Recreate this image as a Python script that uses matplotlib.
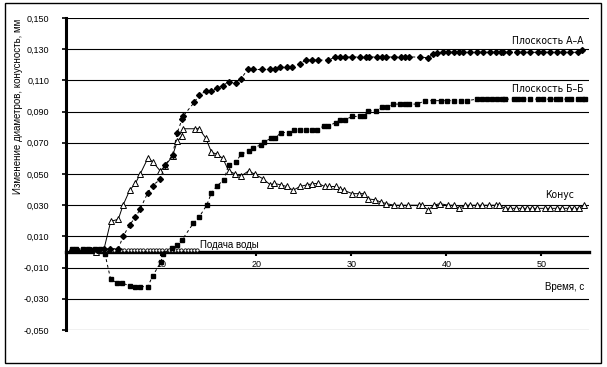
import numpy as np
import matplotlib
matplotlib.use('Agg')
import matplotlib.pyplot as plt
from matplotlib.ticker import FuncFormatter, FixedLocator
from matplotlib.patches import Rectangle

# Плоскость А-А
t_aa = [0.6, 1.2, 1.9, 2.6, 3.3, 4.0, 4.6, 5.5, 6.0, 6.7, 7.3, 7.8, 8.6, 9.1, 9.9,
        10.4, 11.2, 11.7, 12.2, 12.3, 13.5, 14.0, 14.7, 15.3, 15.9, 16.5, 17.1,
        17.9, 18.4, 19.1, 19.7, 20.6, 21.5, 22.0, 22.5, 23.2, 23.8, 24.6, 25.2,
        25.9, 26.5, 27.6, 28.3, 28.8, 29.3, 30.1, 30.9, 31.5, 31.9, 32.7, 33.2,
        33.7, 34.5, 35.2, 35.7, 36.1, 37.2, 38.1, 38.6, 39.0, 39.6, 40.2, 40.8,
        41.3, 41.8, 42.5, 43.2, 43.9, 44.6, 45.2, 45.7, 46.0, 46.6, 47.4, 48.1,
        48.8, 49.6, 50.2, 50.9, 51.6, 52.3, 53.0, 53.8, 54.3]
y_aa = [0.001, 0.001, 0.001, 0.001, 0.001, 0.002, 0.002, 0.002, 0.010, 0.0174,
        0.0224, 0.0275, 0.038, 0.0426, 0.0465, 0.0557, 0.062, 0.0766, 0.085, 0.087,
        0.096, 0.1006, 0.103, 0.103, 0.105, 0.1067, 0.109, 0.1085, 0.111, 0.117,
        0.117, 0.117, 0.117, 0.1174, 0.1185, 0.1185, 0.1185, 0.1206, 0.123, 0.123,
        0.123, 0.123, 0.125, 0.125, 0.125, 0.125, 0.125, 0.125, 0.125, 0.125,
        0.125, 0.125, 0.125, 0.125, 0.125, 0.125, 0.125, 0.1245, 0.127, 0.1275,
        0.128, 0.128, 0.128, 0.128, 0.128, 0.128, 0.128, 0.128, 0.128, 0.128,
        0.128, 0.128, 0.128, 0.128, 0.128, 0.128, 0.128, 0.128, 0.128, 0.128,
        0.128, 0.128, 0.128, 0.1295]

# Плоскость Б-Б
t_bb = [0.6, 1.1, 1.8, 2.3, 3.0, 3.6, 4.1, 4.7, 5.4, 5.9, 6.7, 7.3, 7.8, 8.6, 9.1,
        10.0, 10.2, 11.1, 11.7, 12.2, 13.4, 14.0, 14.8, 15.3, 15.9, 16.6, 17.1,
        17.9, 18.4, 19.2, 19.7, 20.5, 20.8, 21.6, 22.0, 22.6, 23.4, 24.0, 24.6,
        25.2, 25.9, 26.4, 27.1, 27.6, 28.4, 28.8, 29.3, 30.1, 30.9, 31.3, 31.8,
        32.6, 33.2, 33.8, 34.4, 35.1, 35.6, 36.1, 36.9, 37.8, 38.6, 39.4, 40.1,
        40.8, 41.5, 42.2, 43.2, 43.8, 44.3, 44.8, 45.3, 45.8, 46.2, 47.1, 47.5,
        48.1, 48.8, 49.6, 50.2, 50.9, 51.5, 52.0, 52.7, 53.1, 53.8, 54.3, 54.6]
y_bb = [0.002, 0.002, 0.002, 0.002, 0.002, 0.002, -0.0013, -0.0176, -0.0198,
        -0.0198, -0.0218, -0.0222, -0.0222, -0.0222, -0.0155, -0.0062, -0.001,
        0.0024, 0.0045, 0.0077, 0.0185, 0.0224, 0.030, 0.038, 0.0426, 0.046,
        0.056, 0.058, 0.0626, 0.0647, 0.0669, 0.0686, 0.0705, 0.073, 0.073,
        0.0766, 0.0766, 0.078, 0.078, 0.078, 0.078, 0.078, 0.0809, 0.0809, 0.083,
        0.0847, 0.0847, 0.0869, 0.0869, 0.0869, 0.0905, 0.0905, 0.0927, 0.0927,
        0.0948, 0.0948, 0.0948, 0.0948, 0.0948, 0.097, 0.097, 0.097, 0.097,
        0.097, 0.097, 0.097, 0.098, 0.098, 0.098, 0.098, 0.098, 0.098, 0.098,
        0.098, 0.098, 0.098, 0.098, 0.098, 0.098, 0.098, 0.098, 0.098, 0.098,
        0.098, 0.098, 0.098, 0.098]

# Конус
t_kon = [3.2, 4.0, 4.7, 5.5, 6.0, 6.7, 7.3, 7.8, 8.6, 9.1, 9.9, 10.4, 11.2, 11.7,
         12.2, 12.3, 13.6, 14.0, 14.7, 15.3, 15.9, 16.5, 17.1, 17.8, 18.4, 19.2,
         19.9, 20.7, 21.5, 21.9, 22.6, 23.2, 23.9, 24.6, 25.3, 25.9, 26.5, 27.2,
         27.7, 28.4, 28.8, 29.2, 30.1, 30.8, 31.3, 31.8, 32.5, 33.1, 33.7, 34.5,
         35.2, 36.0, 37.1, 37.4, 38.1, 38.7, 39.3, 40.2, 40.8, 41.3, 42.0, 42.5,
         43.2, 43.7, 44.5, 45.2, 45.5, 46.2, 46.7, 47.3, 48.0, 48.5, 49.0, 49.5,
         50.4, 50.9, 51.6, 52.2, 52.9, 53.4, 53.9, 54.5]
y_kon = [0.000, 0.002, 0.0196, 0.021, 0.030, 0.0396, 0.044, 0.050, 0.060, 0.058,
         0.052, 0.055, 0.0615, 0.071, 0.0745, 0.079, 0.079, 0.079, 0.073, 0.064,
         0.0626, 0.060, 0.052, 0.050, 0.0486, 0.052, 0.0497, 0.047, 0.043, 0.044,
         0.043, 0.042, 0.0396, 0.042, 0.043, 0.0437, 0.044, 0.042, 0.042, 0.042,
         0.0405, 0.0396, 0.0374, 0.0374, 0.0374, 0.034, 0.0335, 0.032, 0.031,
         0.030, 0.030, 0.030, 0.030, 0.030, 0.027, 0.030, 0.031, 0.030, 0.030,
         0.028, 0.030, 0.030, 0.030, 0.030, 0.030, 0.030, 0.030, 0.028, 0.028,
         0.028, 0.028, 0.028, 0.028, 0.028, 0.028, 0.028, 0.028, 0.028, 0.028,
         0.028, 0.028, 0.030]

# Подача воды
t_voda = [4.8, 5.1, 5.5, 5.8, 6.1, 6.5, 6.8, 7.1, 7.5, 7.8, 8.1, 8.5, 8.8, 9.1,
          9.5, 9.8, 10.1, 10.5, 10.8, 11.1, 11.5, 11.8, 12.1, 12.5, 12.8, 13.1,
          13.5, 13.8]
y_voda = [0.001] * len(t_voda)

x_ticks = [10, 20, 30, 40, 50]
y_ticks = [-0.05, -0.03, -0.01, 0.01, 0.03, 0.05, 0.07, 0.09, 0.11, 0.13, 0.15]

plt.rcParams['font.family'] = ['Liberation Sans', 'DejaVu Sans']

fig = plt.figure(figsize=(6.07, 3.67), dpi=100)
ax = fig.add_axes([66 / 607, 1 - 330 / 367, 523 / 607, 312 / 367])

ax.plot(t_voda, y_voda, 'o', mfc='white', mec='black', ms=2.4, mew=0.6)
ax.plot(t_bb, y_bb, color='black', ls=(0, (3, 3)), lw=0.7,
        marker='s', ms=2.6, mfc='black', mec='black')
ax.plot(t_kon, y_kon, color='black', ls='-', lw=0.7,
        marker='^', ms=4.0, mfc='white', mec='black', mew=0.7)
ax.plot(t_aa, y_aa, color='black', ls=(0, (3, 3)), lw=0.7,
        marker='D', ms=3.0, mfc='black', mec='black')

ax.set_xlim(0, 55)
ax.set_ylim(-0.05, 0.15)

ax.yaxis.set_major_locator(FixedLocator(y_ticks))
ax.yaxis.set_major_formatter(FuncFormatter(lambda v, p: f'{v:.3f}'.replace('.', ',')))
ax.xaxis.set_major_locator(FixedLocator(x_ticks))
ax.yaxis.grid(True, color='black', lw=0.8)
ax.set_axisbelow(True)

for s in ['top', 'right']:
    ax.spines[s].set_visible(False)
ax.spines['left'].set_linewidth(2.2)
ax.spines['bottom'].set_position(('data', 0))
ax.spines['bottom'].set_linewidth(2.4)
ax.spines['bottom'].set_zorder(1.5)

ax.tick_params(axis='y', direction='out', length=3, width=1.2, pad=9,
               labelsize=6.5, colors='black')
ax.tick_params(axis='x', direction='out', length=3, width=1.5, pad=3,
               labelsize=6.5, colors='black')

# подписи кривых - узкий шрифт
lab = dict(family='DejaVu Sans', fontstretch='condensed', fontsize=7.5,
           ha='right', va='center')
ax.text(54.4, 0.1355, 'Плоскость А–А', **lab)
ax.text(54.4, 0.1045, 'Плоскость Б–Б', **lab)
ax.text(53.4, 0.0368, 'Конус', **lab)
ax.text(14.1, 0.0045, 'Подача воды', fontsize=7, ha='left', va='center')
ax.text(54.5, -0.0226, 'Время, с', fontsize=7, ha='right', va='center')

fig.text(18 / 607, 1 - 106 / 367, 'Изменение диаметров, конусность, мм',
         rotation=90, fontsize=7, ha='center', va='center')

fig.patches.append(Rectangle((5 / 607, 1 - 363 / 367), 596 / 607, 360 / 367,
                             transform=fig.transFigure, fill=False,
                             edgecolor='black', lw=1))

fig.savefig('out.png', dpi=100)
